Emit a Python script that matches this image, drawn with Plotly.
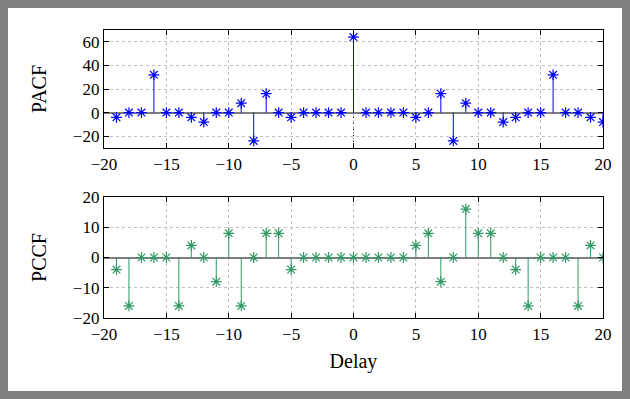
import plotly.graph_objects as go
from plotly.subplots import make_subplots

lags = list(range(-19, 21))
pacf = [-4, 0, 0, 32, 0, 0, -4, -8, 0, 0, 8, -24, 16, 0, -4, 0, 0, 0, 0,
        64,
        0, 0, 0, 0, -4, 0, 16, -24, 8, 0, 0, -8, -4, 0, 0, 32, 0, 0, -4, -8]
pccf = [-4, -16, 0, 0, 0, -16, 4, 0, -8, 8, -16, 0, 8, 8, -4, 0, 0, 0, 0,
        0,
        0, 0, 0, 0, 4, 8, -8, 0, 16, 8, 8, 0, -4, -16, 0, 0, 0, -16, 4, 0]
xticks = [-20, -15, -10, -5, 0, 5, 10, 15, 20]
pacf_ticks = [-20, 0, 20, 40, 60]
pccf_ticks = [-20, -10, 0, 10, 20]
pacf_range = [-30, 70]
pccf_range = [-20, 20]

BLUE = "#0000ff"
GREEN = "#339966"
FONT = "Liberation Serif, Times New Roman, serif"

W, H = 630, 399
ml, mr, mt, mb = 104, 27, 30, 81
ph = H - mt - mb

fig = make_subplots(rows=2, cols=1, vertical_spacing=0.1)


def stems(x, y):
    sx, sy = [], []
    for a, b in zip(x, y):
        sx += [a, a, None]
        sy += [0, b, None]
    return sx, sy


# dotted black line at zero delay in the upper panel (below the baseline)
fig.add_shape(type="line", xref="x", yref="y", x0=0, x1=0, y0=pacf_range[0], y1=0,
              line=dict(color="black", width=1, dash="dot"), layer="below")

for row, vals, col in [(1, pacf, BLUE), (2, pccf, GREEN)]:
    sx, sy = stems(lags, vals)
    fig.add_trace(go.Scatter(x=sx, y=sy, mode="lines",
                             line=dict(color=col, width=1),
                             hoverinfo="skip", showlegend=False), row=row, col=1)
    fig.add_trace(go.Scatter(x=lags, y=vals, mode="markers",
                             marker=dict(symbol="asterisk-open", size=9, color=col,
                                         line=dict(color=col, width=1.2)),
                             showlegend=False), row=row, col=1)

axis_common = dict(showline=True, linecolor="black", linewidth=1.3, mirror="ticks",
                   ticks="inside", ticklen=5, tickcolor="black", automargin=False,
                   showgrid=True, gridcolor="#c0c0c0", griddash="dot", gridwidth=1,
                   tickfont=dict(family=FONT, size=17, color="black"))

fig.update_xaxes(range=[-20, 20], tickvals=xticks, zeroline=False, **axis_common)
fig.update_yaxes(zeroline=True, zerolinecolor="#7f7f7f", zerolinewidth=1.5, **axis_common)

tfont = dict(family=FONT, size=20, color="black")
fig.update_yaxes(range=pacf_range, tickvals=pacf_ticks, row=1, col=1,
                 title=dict(text="PACF", font=tfont, standoff=20))
fig.update_yaxes(range=pccf_range, tickvals=pccf_ticks, row=2, col=1,
                 title=dict(text="PCCF", font=tfont, standoff=20))
fig.update_xaxes(row=2, col=1,
                 title=dict(text="Delay", font=tfont, standoff=11))

top_bottom = (H - mb - 148) / ph
bot_top = (H - mb - 197) / ph
fig.update_layout(yaxis=dict(domain=[top_bottom, 1.0]), yaxis2=dict(domain=[0.0, bot_top]))

# white page inside the grey frame
b = 8
pw = W - ml - mr
fig.add_shape(type="rect", xref="paper", yref="paper",
              x0=(b - ml) / pw, x1=(W - b - ml) / pw,
              y0=-(mb - b) / ph, y1=1 + (mt - b) / ph,
              fillcolor="white", line=dict(width=0), layer="below")

fig.update_layout(width=W, height=H, margin=dict(l=ml, r=mr, t=mt, b=mb),
                  paper_bgcolor="#808080", plot_bgcolor="rgba(0,0,0,0)",
                  font=dict(family=FONT, color="black"))

fig.write_html("out.html", config={"displayModeBar": False},
               post_script="document.body.style.margin='0';document.body.style.overflow='hidden';")
